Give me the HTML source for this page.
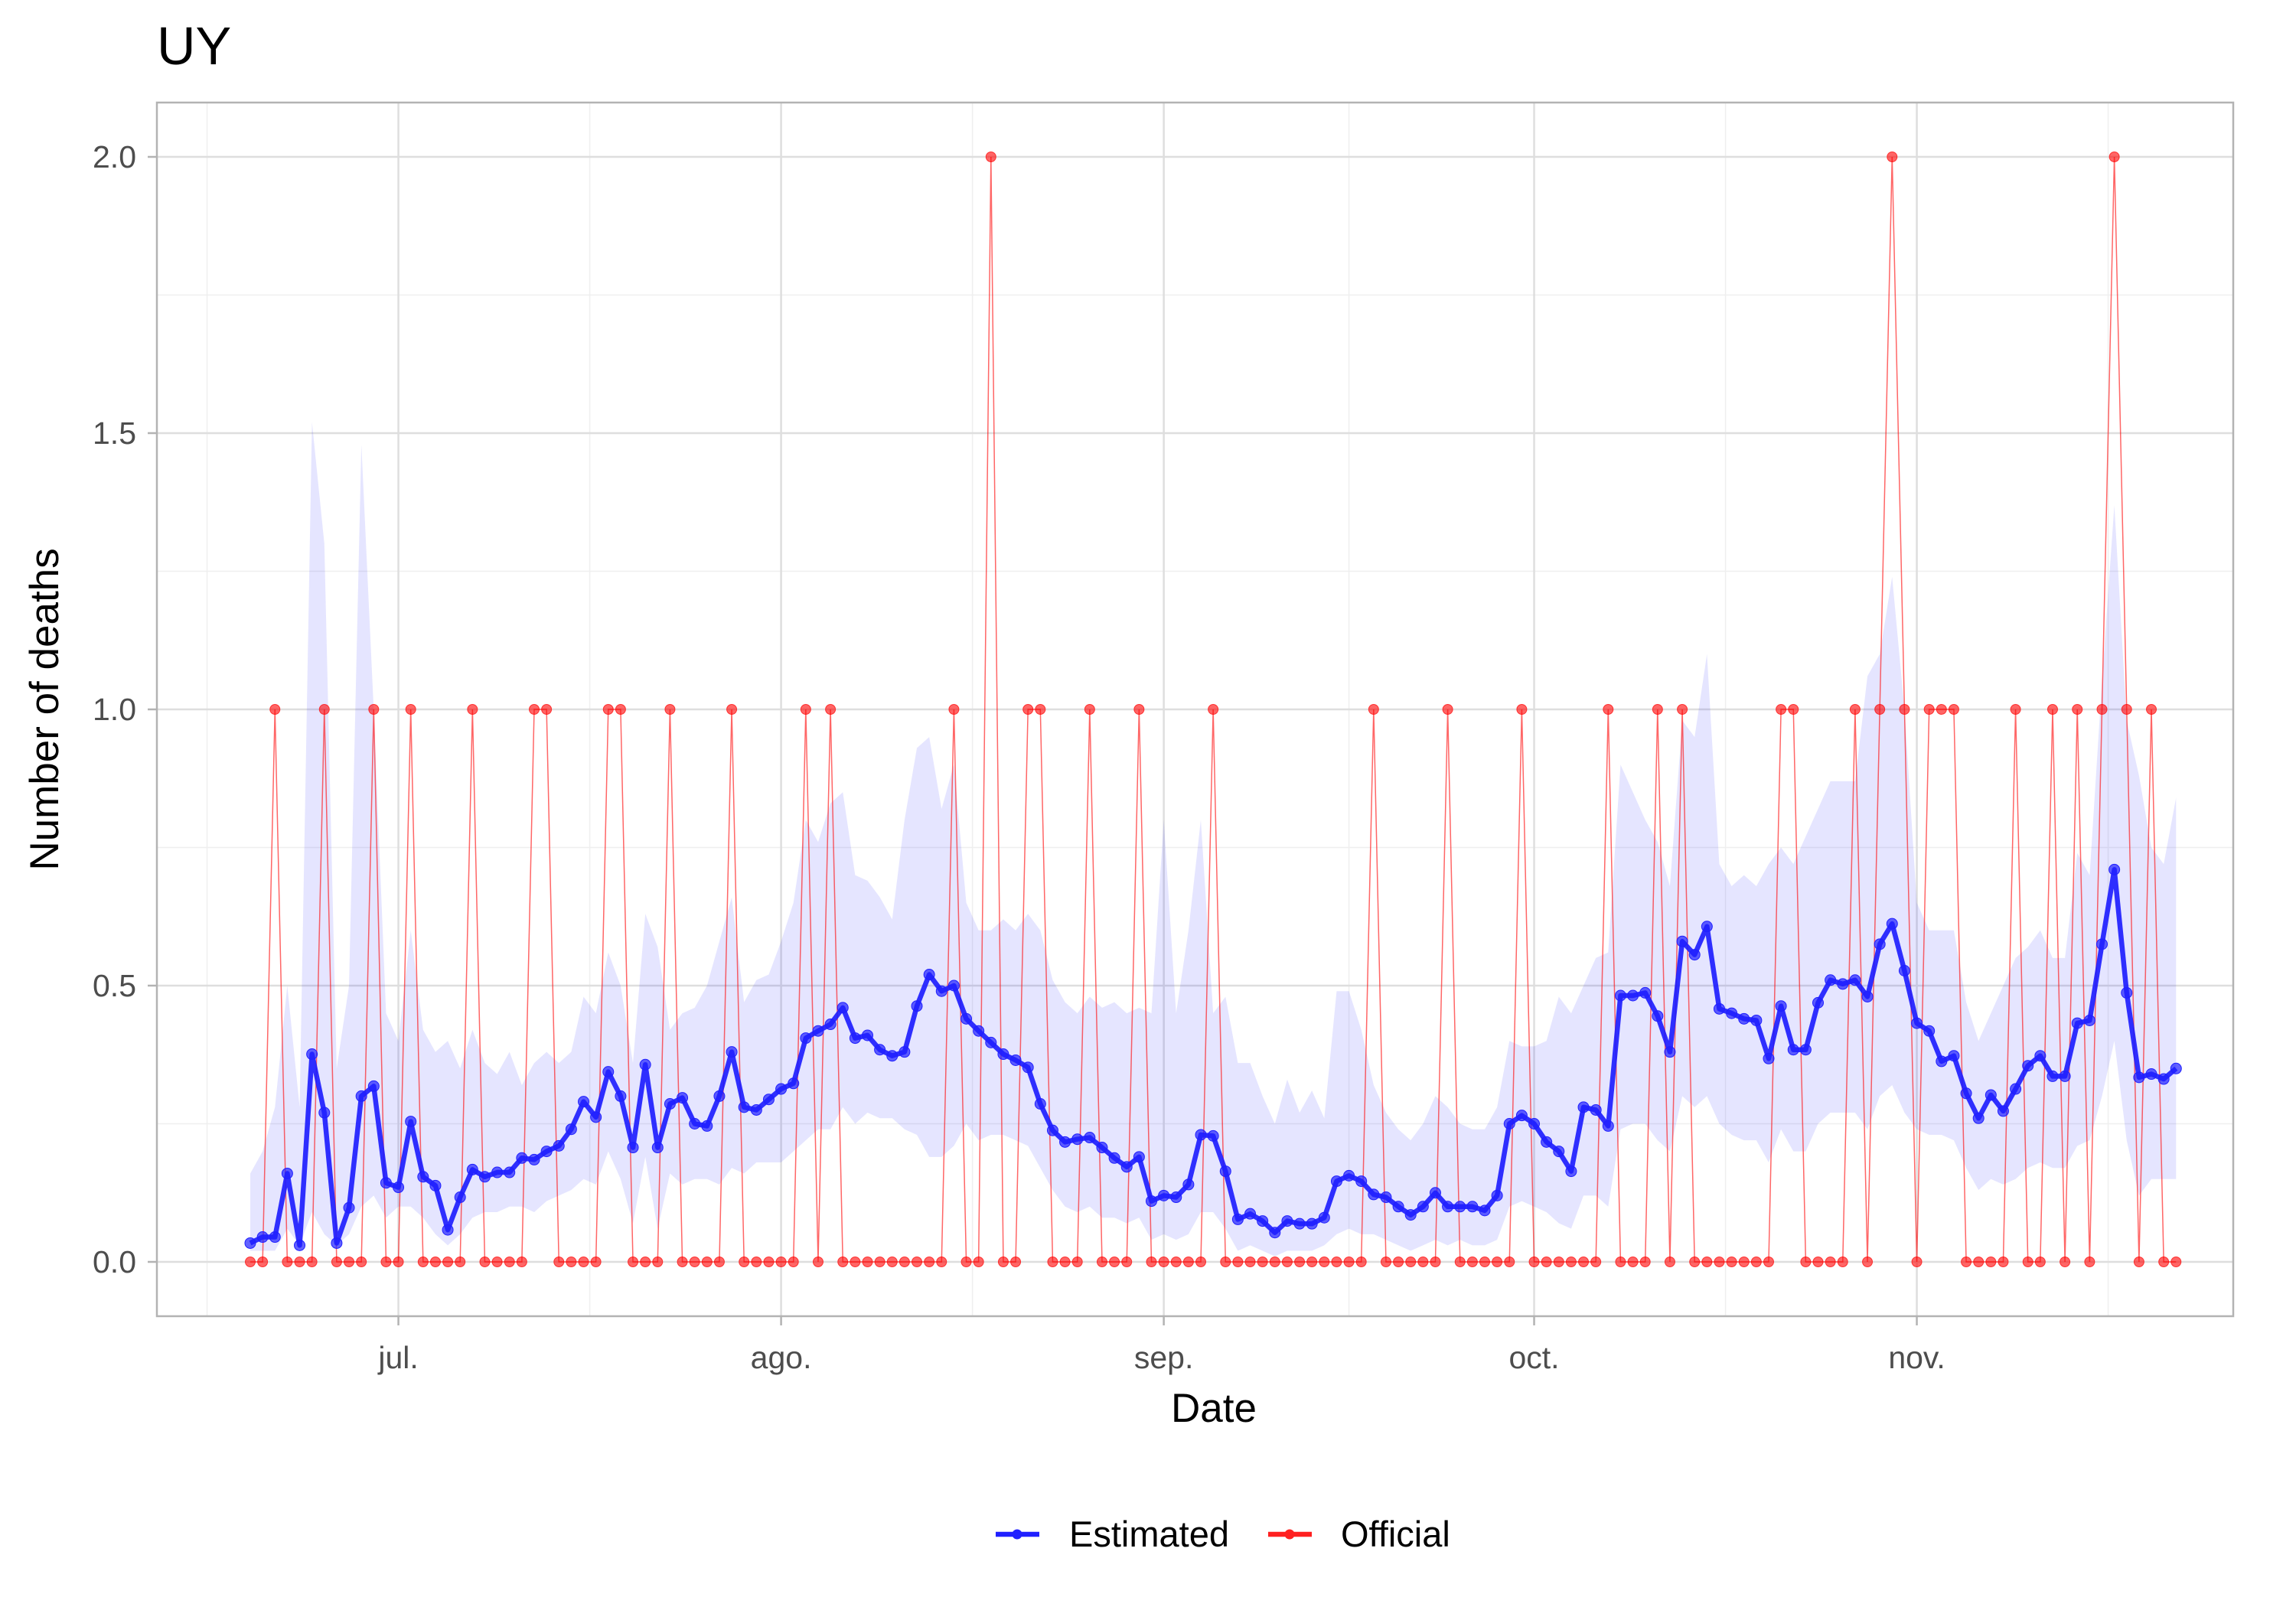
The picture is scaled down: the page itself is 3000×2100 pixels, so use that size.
<!DOCTYPE html>
<html><head><meta charset="utf-8"><style>
html,body{margin:0;padding:0;background:#fff;}
svg{display:block;font-family:"Liberation Sans",Arial,sans-serif;}
</style></head><body>
<svg id="chart" width="3000" height="2100" viewBox="0 0 3000 2100" xmlns="http://www.w3.org/2000/svg">
<text x="205" y="84" font-size="70" fill="#000">UY</text>
<g id="grid"></g>
<g id="band"></g>
<g id="official"></g>
<g id="estimated"></g>
<rect x="205" y="134" width="2713" height="1586" fill="none" stroke="#b3b3b3" stroke-width="2.5"/>
<g id="axes"></g>
<text x="1586" y="1858" font-size="53" text-anchor="middle" fill="#000">Date</text>
<text transform="translate(76,927) rotate(-90)" font-size="53" text-anchor="middle" fill="#000">Number of deaths</text>
<g>
<g>
<line x1="1301" y1="2005" x2="1358" y2="2005" stroke="#2020ff" stroke-width="6.5"/>
<circle cx="1329" cy="2005" r="6.5" fill="#2020ff"/>
<text x="1397" y="2021" font-size="47" fill="#000">Estimated</text>
</g>
<g>
<line x1="1657" y1="2005" x2="1714" y2="2005" stroke="#ff2020" stroke-width="6.5"/>
<circle cx="1685" cy="2005" r="6.5" fill="#ff2020"/>
<text x="1752" y="2021" font-size="47" fill="#000">Official</text>
</g>
</g>
</svg>
<script>
const estimated=[.034,.045,.045,.16,.03,.376,.27,.034,.098,.30,.318,.143,.135,.254,.154,.138,.058,.117,.167,.154,.162,.162,.188,.185,.20,.21,.24,.29,.262,.344,.30,.207,.357,.207,.286,.297,.25,.246,.30,.38,.28,.275,.294,.313,.323,.405,.418,.43,.46,.405,.41,.384,.373,.38,.463,.52,.49,.50,.44,.418,.397,.376,.365,.352,.286,.238,.217,.222,.225,.207,.188,.172,.19,.11,.12,.117,.14,.23,.228,.164,.077,.087,.074,.053,.074,.069,.069,.08,.146,.156,.146,.122,.117,.10,.085,.10,.125,.10,.10,.10,.093,.12,.25,.265,.25,.217,.2,.164,.28,.275,.246,.482,.482,.487,.445,.38,.58,.556,.607,.458,.45,.44,.437,.368,.463,.384,.384,.469,.51,.503,.51,.48,.575,.612,.527,.432,.418,.363,.373,.305,.26,.302,.273,.313,.355,.373,.336,.336,.432,.437,.575,.71,.487,.334,.34,.331,.35];
const upper=[.16,.2,.28,.5,.28,1.52,1.3,.35,.5,1.48,1.0,.45,.4,.6,.42,.38,.4,.35,.42,.36,.34,.38,.32,.36,.38,.36,.38,.48,.45,.56,.5,.36,.63,.57,.42,.45,.46,.5,.58,.66,.47,.51,.52,.58,.65,.8,.76,.83,.85,.7,.69,.66,.62,.8,.93,.95,.82,.9,.65,.6,.6,.62,.6,.63,.6,.51,.47,.45,.48,.46,.47,.45,.46,.45,.8,.45,.6,.8,.45,.48,.36,.36,.3,.25,.33,.27,.31,.26,.49,.49,.42,.32,.27,.24,.22,.25,.3,.28,.25,.24,.24,.28,.4,.39,.39,.4,.48,.45,.5,.55,.56,.9,.85,.8,.76,.68,.98,.95,1.1,.72,.68,.7,.68,.72,.75,.72,.77,.82,.87,.87,.87,1.06,1.1,1.24,1.0,.65,.6,.6,.6,.47,.4,.45,.5,.55,.57,.6,.55,.55,.74,.7,1.05,1.37,.98,.88,.75,.72,.84];
const lower=[.02,.02,.02,.06,.03,.09,.05,.03,.05,.1,.12,.08,.1,.1,.08,.05,.03,.05,.08,.09,.09,.1,.1,.09,.11,.12,.13,.15,.14,.2,.15,.07,.19,.06,.16,.14,.15,.15,.14,.17,.16,.18,.18,.18,.2,.22,.24,.24,.28,.25,.27,.26,.26,.24,.23,.19,.19,.21,.25,.22,.23,.23,.22,.21,.17,.13,.1,.09,.1,.08,.08,.07,.08,.04,.05,.04,.05,.09,.09,.06,.02,.03,.02,.01,.02,.02,.02,.03,.05,.06,.05,.05,.04,.03,.02,.03,.04,.03,.04,.03,.03,.04,.1,.11,.1,.09,.07,.06,.12,.12,.1,.24,.25,.25,.22,.2,.3,.28,.3,.25,.23,.22,.22,.18,.24,.2,.2,.25,.27,.27,.27,.24,.3,.32,.27,.24,.23,.23,.22,.17,.13,.15,.14,.15,.17,.18,.17,.17,.21,.22,.3,.4,.22,.12,.15,.15,.15];
const officialOnes=[2,6,10,13,18,23,24,29,30,34,39,45,47,57,63,64,68,72,78,91,97,103,110,114,116,124,125,130,132,134,136,137,138,143,146,148,150,152,154];
const officialTwos=[60,133,151];
const yTicks=[0,0.5,1,1.5,2];
const yTickLabels=["0.0","0.5","1.0","1.5","2.0"];
const monthIdx=[12,43,74,104,135];
const monthLabels=["jul.","ago.","sep.","oct.","nov."];

const NS="http://www.w3.org/2000/svg";
const X=i=>327+i*16.13;
const Y=v=>1649-v*722;
function mk(tag,attrs,parent){const e=document.createElementNS(NS,tag);for(const k in attrs)e.setAttribute(k,attrs[k]);parent.appendChild(e);return e;}
const official=estimated.map((_,i)=>officialTwos.includes(i)?2:(officialOnes.includes(i)?1:0));

const grid=document.getElementById('grid');
for(let k=0;k<yTicks.length-1;k++){const v=(yTicks[k]+yTicks[k+1])/2;
 const l=mk('line',{x1:205,x2:2918,y1:Y(v),y2:Y(v),stroke:'#efefef','stroke-width':1.5},grid);
 
 }
const minors=[monthIdx[0]-15.5];for(let k=0;k<monthIdx.length-1;k++)minors.push((monthIdx[k]+monthIdx[k+1])/2);minors.push(monthIdx[4]+15.5);
minors.forEach(m=>{const l=mk('line',{x1:X(m),x2:X(m),y1:134,y2:1720,stroke:'#efefef','stroke-width':1.5},grid);
 
 });
yTicks.forEach(v=>{const l=mk('line',{x1:205,x2:2918,y1:Y(v),y2:Y(v),stroke:'#dedede','stroke-width':2.5},grid);
 
 });
monthIdx.forEach(m=>{const l=mk('line',{x1:X(m),x2:X(m),y1:134,y2:1720,stroke:'#dedede','stroke-width':2.5},grid);
 
 });

const axes=document.getElementById('axes');
yTicks.forEach((v,k)=>{const t=mk('text',{x:178,y:Y(v)+14,'font-size':41,'text-anchor':'end',fill:'#4d4d4d'},axes);t.textContent=yTickLabels[k];
 
 
 const tk=mk('line',{x1:193,x2:205,y1:Y(v),y2:Y(v),stroke:'#b3b3b3','stroke-width':2.5},axes);
 
 });
monthIdx.forEach((m,k)=>{const t=mk('text',{x:X(m),y:1788,'font-size':41,'text-anchor':'middle',fill:'#4d4d4d'},axes);t.textContent=monthLabels[k];
 
 
 const tk=mk('line',{x1:X(m),x2:X(m),y1:1720,y2:1732,stroke:'#b3b3b3','stroke-width':2.5},axes);
 
 });

const band=document.getElementById('band');
let pts=upper.map((v,i)=>X(i)+','+Y(v));for(let i=lower.length-1;i>=0;i--)pts.push(X(i)+','+Y(lower[i]));
const poly=mk('polygon',{points:pts.join(' '),fill:'#0000ff','fill-opacity':0.1},band);



const og=document.getElementById('official');
const ol=mk('polyline',{points:official.map((v,i)=>X(i)+','+Y(v)).join(' '),fill:'none',stroke:'#ff0000','stroke-opacity':0.6,'stroke-width':1.5},og);


official.forEach((v,i)=>{const c=mk('circle',{cx:X(i),cy:Y(v),r:6.5,fill:'#ff0000','fill-opacity':0.6,stroke:'#ff0000','stroke-opacity':0.7,'stroke-width':1},og);
 
 });

const eg=document.getElementById('estimated');
const el=mk('polyline',{points:estimated.map((v,i)=>X(i)+','+Y(v)).join(' '),fill:'none',stroke:'#1a1aff','stroke-opacity':0.9,'stroke-width':6.5,'stroke-linejoin':'round'},eg);


estimated.forEach((v,i)=>{const c=mk('circle',{cx:X(i),cy:Y(v),r:7,fill:'#2020ff','fill-opacity':0.7,stroke:'#2020ff','stroke-width':1},eg);
 
 });
</script>
</body></html>
